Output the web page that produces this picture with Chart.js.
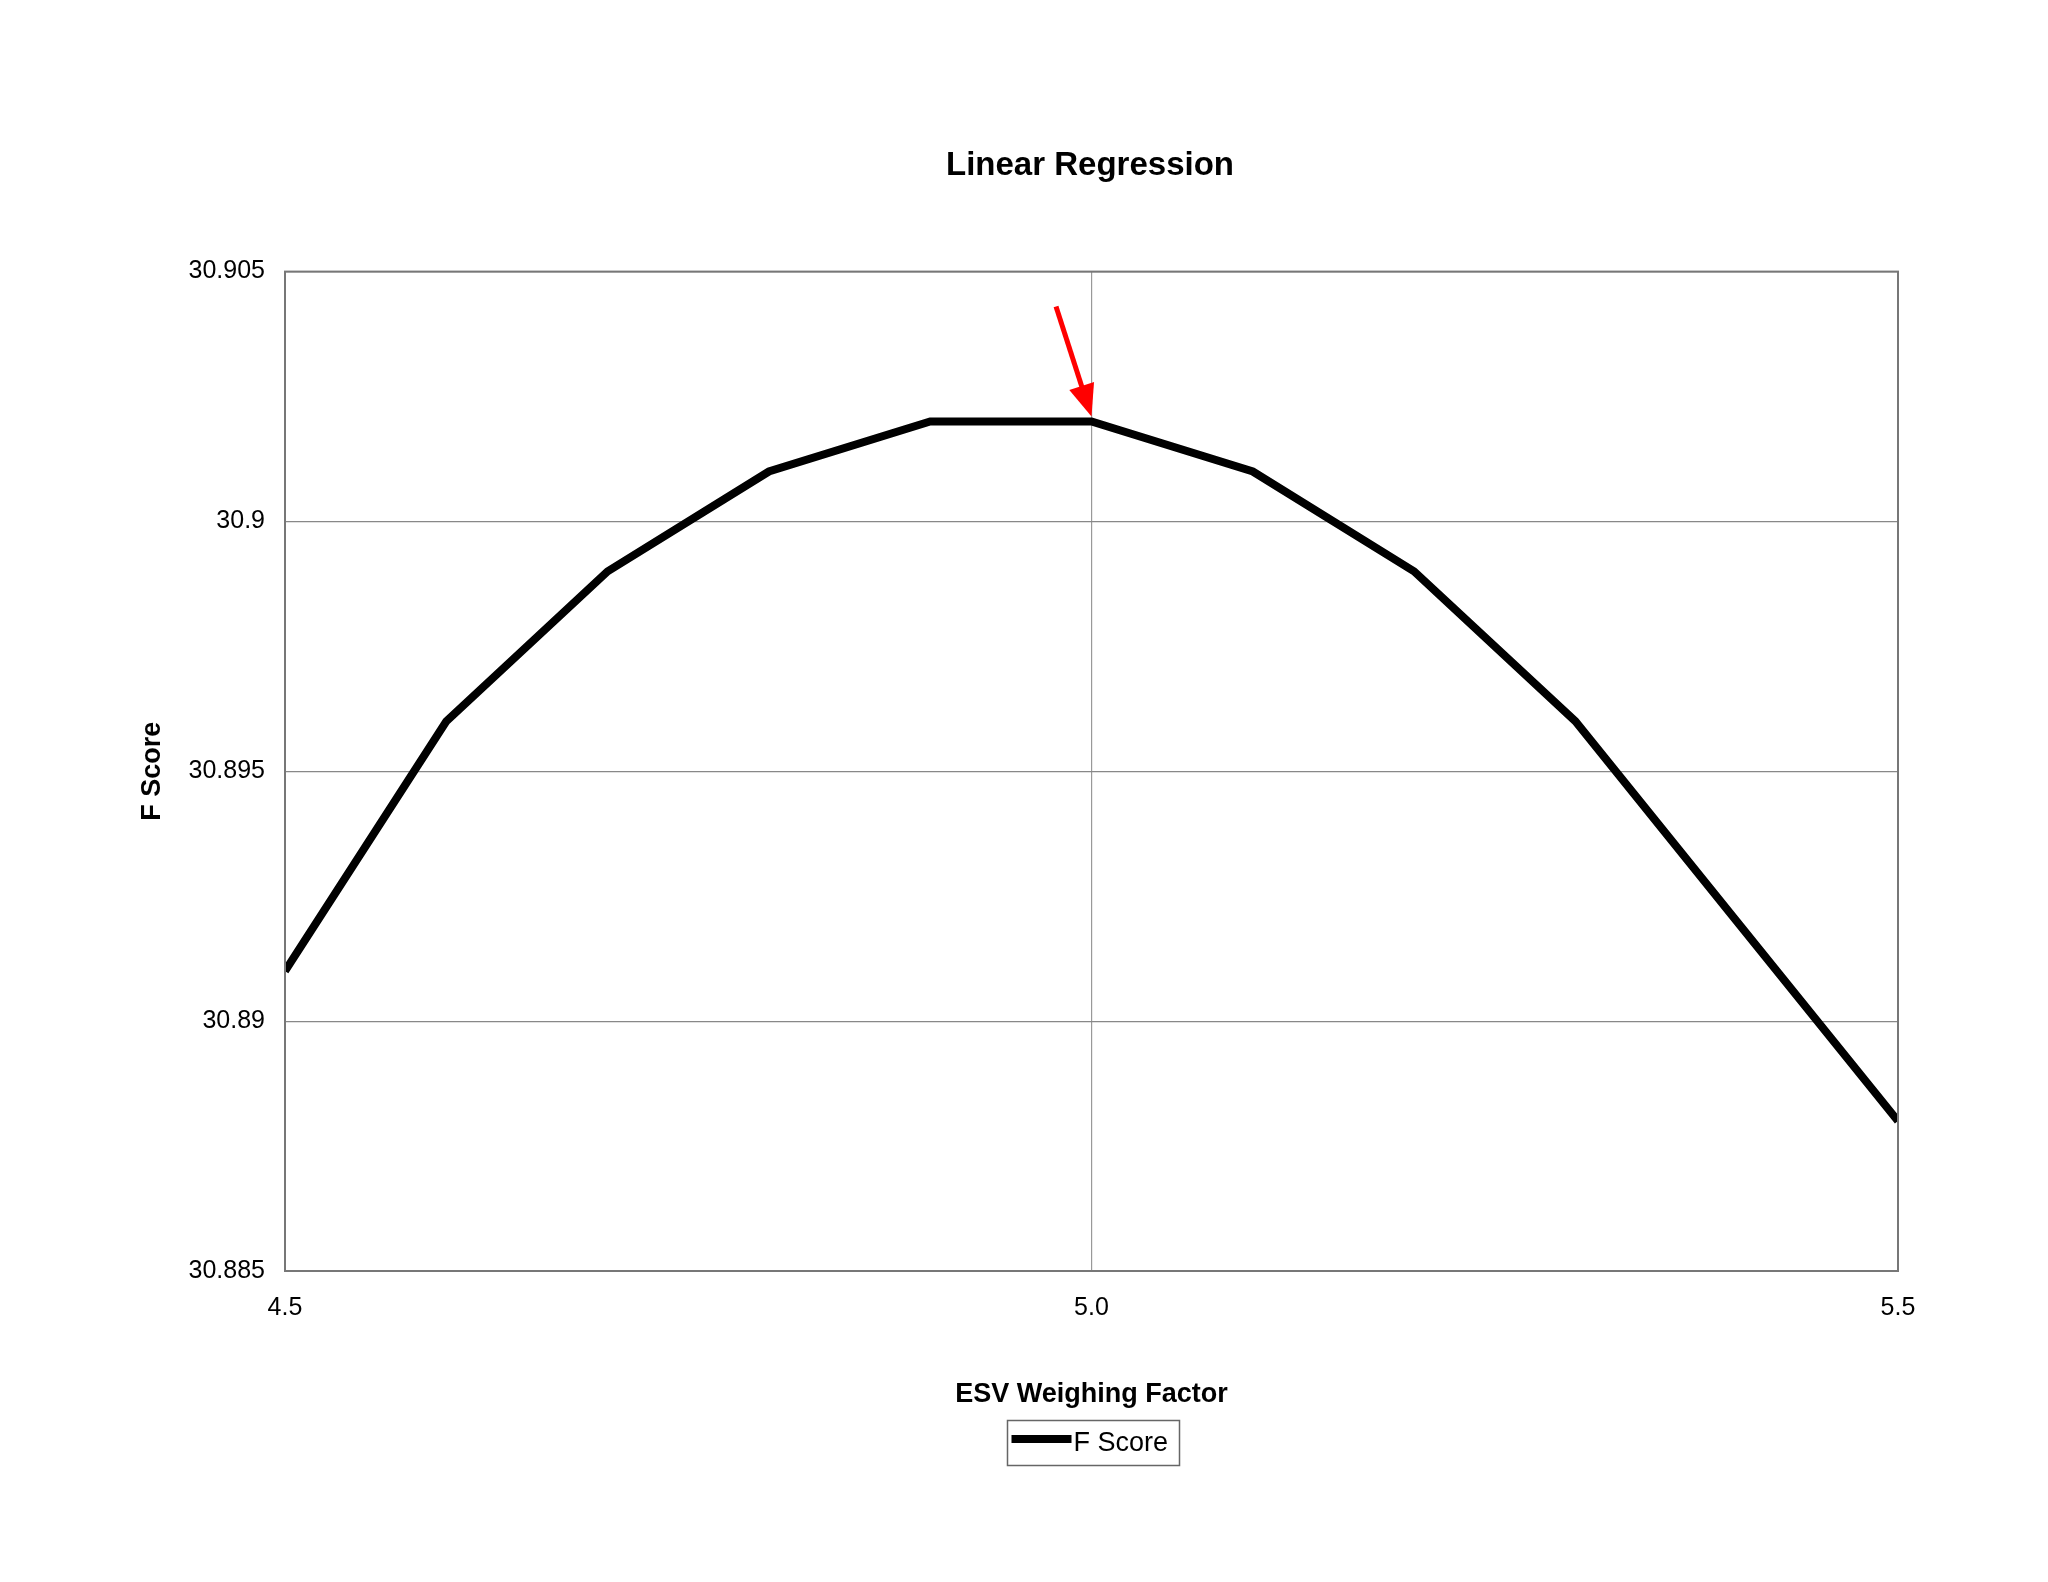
<!DOCTYPE html>
<html>
<head>
<meta charset="utf-8">
<script src="https://cdn.jsdelivr.net/npm/chart.js@4/dist/chart.umd.min.js"></script>
<style>
  html, body { margin: 0; padding: 0; background: #fff; }
  #wrap { width: 2048px; height: 1582px; }
</style>
</head>
<body>
<div id="wrap"><canvas id="chart" width="2048" height="1582"></canvas></div>
<script>
// ESV weighing factor vs F score
const xValues = [4.5, 4.6, 4.7, 4.8, 4.9, 5.0, 5.1, 5.2, 5.3, 5.4, 5.5];
const fScores = [30.891, 30.896, 30.899, 30.901, 30.902, 30.902, 30.901, 30.899, 30.896, 30.892, 30.888];
const xTicks = [4.5, 5.0, 5.5];
const yTicks = [30.885, 30.89, 30.895, 30.9, 30.905];
// red arrow pointing at the peak (data coords)
const arrowFrom = [4.978, 30.9043];
const arrowTo = [5.0, 30.9021];
const seriesName = 'F Score';

const FONT = "'Liberation Sans', Arial, sans-serif";

// box around plot area, custom legend and the arrow
const extrasPlugin = {
    id: 'extras',
    afterDraw(chart) {
        const ctx = chart.ctx;
        const a = chart.chartArea;
        ctx.save();
        ctx.strokeStyle = '#777';
        ctx.lineWidth = 2;
        ctx.strokeRect(a.left, a.top, a.right - a.left, a.bottom - a.top);

        // legend
        const cx = (a.left + a.right) / 2, cy = 1443;
        const bw = 172, bh = 45;
        const bx = cx - bw / 2 + 2;
        ctx.strokeStyle = '#666';
        ctx.lineWidth = 1.5;
        ctx.strokeRect(bx, cy - bh / 2, bw, bh);
        ctx.strokeStyle = '#000';
        ctx.lineWidth = 8;
        ctx.beginPath();
        ctx.moveTo(bx + 4, cy - 4);
        ctx.lineTo(bx + 64, cy - 4);
        ctx.stroke();
        ctx.fillStyle = '#000';
        ctx.font = '27px ' + FONT;
        ctx.textBaseline = 'middle';
        ctx.fillText(seriesName, bx + 66, cy + 1);

        const xs = chart.scales.x, ys = chart.scales.y;
        const x1 = xs.getPixelForValue(arrowFrom[0]), y1 = ys.getPixelForValue(arrowFrom[1]);
        const x2 = xs.getPixelForValue(arrowTo[0]), y2 = ys.getPixelForValue(arrowTo[1]);
        const ang = Math.atan2(y2 - y1, x2 - x1);
        const head = 32;
        ctx.strokeStyle = '#ff0000';
        ctx.fillStyle = '#ff0000';
        ctx.lineWidth = 5;
        ctx.beginPath();
        ctx.moveTo(x1, y1);
        ctx.lineTo(x2 - Math.cos(ang) * head * 0.8, y2 - Math.sin(ang) * head * 0.8);
        ctx.stroke();
        ctx.beginPath();
        ctx.moveTo(x2, y2);
        ctx.lineTo(x2 - head * Math.cos(ang) + 13 * Math.sin(ang), y2 - head * Math.sin(ang) - 13 * Math.cos(ang));
        ctx.lineTo(x2 - head * Math.cos(ang) - 13 * Math.sin(ang), y2 - head * Math.sin(ang) + 13 * Math.cos(ang));
        ctx.closePath();
        ctx.fill();
        ctx.restore();
    }
};

new Chart(document.getElementById('chart').getContext('2d'), {
    type: 'line',
    data: {
        datasets: [{
            label: seriesName,
            data: xValues.map((x, i) => ({ x: x, y: fScores[i] })),
            borderColor: '#000',
            backgroundColor: '#000',
            borderWidth: 8,
            pointRadius: 0,
            tension: 0
        }]
    },
    options: {
        responsive: false,
        devicePixelRatio: 1,
        animation: false,
        layout: { padding: { left: 132, right: 0, top: 0, bottom: 171 } },
        plugins: {
            title: {
                display: true,
                text: 'Linear Regression',
                color: '#000',
                font: { family: FONT, size: 33, weight: 'bold' },
                padding: { top: 146, bottom: 86 }
            },
            legend: { display: false },
            tooltip: { enabled: false }
        },
        scales: {
            x: {
                type: 'linear',
                min: 4.5,
                max: 5.5,
                afterBuildTicks: s => { s.ticks = xTicks.map(v => ({ value: v })); },
                afterFit: s => { s.height = 140; },
                grid: { color: '#999', lineWidth: 1.2, drawTicks: false },
                border: { display: false },
                ticks: {
                    color: '#000',
                    padding: 22,
                    font: { family: FONT, size: 25 },
                    callback: v => Number(v).toFixed(1)
                },
                title: {
                    display: true,
                    text: 'ESV Weighing Factor',
                    color: '#000',
                    font: { family: FONT, size: 27, weight: 'bold' },
                    padding: { top: 0, bottom: 0 }
                }
            },
            y: {
                min: 30.885,
                max: 30.905,
                afterBuildTicks: s => { s.ticks = yTicks.map(v => ({ value: v })); },
                afterFit: s => { s.width = 285 - 132; },
                grid: { color: '#888', lineWidth: 1.2, drawTicks: false },
                border: { display: false },
                ticks: {
                    color: '#000',
                    padding: 20,
                    font: { family: FONT, size: 25 },
                    callback: v => String(Number(v.toFixed(3)))
                },
                title: {
                    display: true,
                    text: 'F Score',
                    color: '#000',
                    font: { family: FONT, size: 27, weight: 'bold' },
                    padding: { bottom: 0 }
                }
            },
            yRight: {
                position: 'right',
                display: true,
                afterFit: s => { s.width = 150; },
                grid: { display: false },
                border: { display: false },
                ticks: { display: false }
            }
        }
    },
    plugins: [extrasPlugin]
});
</script>
</body>
</html>
